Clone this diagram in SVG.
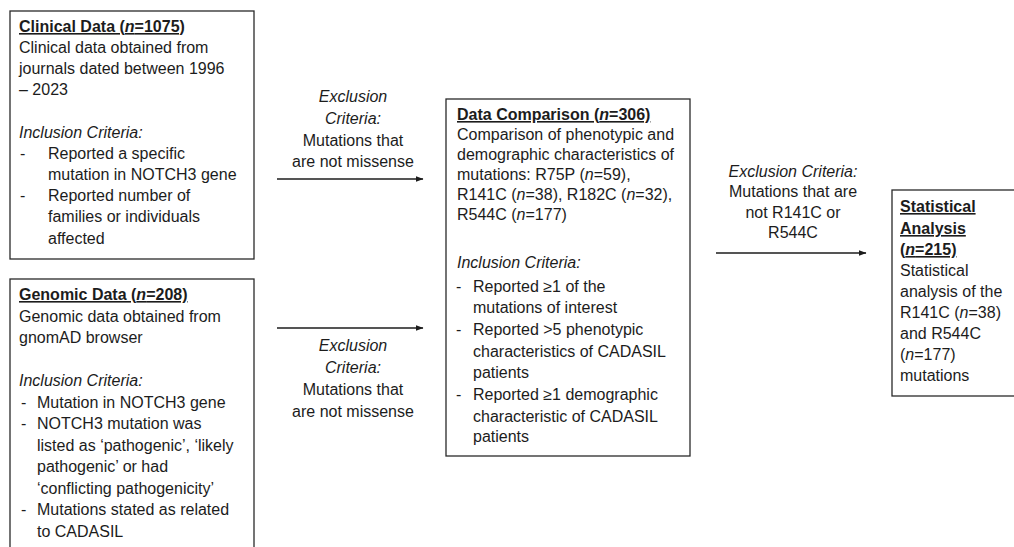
<svg xmlns="http://www.w3.org/2000/svg" width="1014" height="547" viewBox="0 0 1014 547">
<style>
text{font-family:"Liberation Sans",Arial,sans-serif;font-size:16px;fill:#1c1c1c}
.h{font-weight:bold;text-decoration:underline}
.i{font-style:italic}
.c{text-anchor:middle}
.box{fill:#fff;stroke:#2a2a2a;stroke-width:1.3}
.edge{stroke:#1c1c1c;stroke-width:1.3;fill:none;marker-end:url(#ah)}
</style>
<defs>
<marker id="ah" markerWidth="8" markerHeight="6" refX="7.5" refY="3" orient="auto" markerUnits="userSpaceOnUse">
<path d="M0,0 L8,3 L0,6 Z" fill="#1c1c1c"/>
</marker>
</defs>
<rect width="1014" height="547" fill="#fff"/>
<g id="clinical">
<rect class="box" x="10" y="11" width="244" height="248"/>
<text x="19" y="32"><tspan class="h">Clinical Data (<tspan class="i">n</tspan>=1075)</tspan></text>
<text x="19" y="53">Clinical data obtained from</text>
<text x="19" y="74">journals dated between 1996</text>
<text x="19" y="95">– 2023</text>
<text x="19" y="138" class="i">Inclusion Criteria:</text>
<text x="20" y="159">-</text><text x="48" y="159">Reported a specific</text>
<text x="48" y="180">mutation in NOTCH3 gene</text>
<text x="20" y="201">-</text><text x="48" y="201">Reported number of</text>
<text x="48" y="222">families or individuals</text>
<text x="48" y="244">affected</text>
</g>
<g id="genomic">
<rect class="box" x="10" y="279" width="244" height="280"/>
<text x="19" y="300"><tspan class="h">Genomic Data (<tspan class="i">n</tspan>=208)</tspan></text>
<text x="19" y="321.5">Genomic data obtained from</text>
<text x="19" y="343">gnomAD browser</text>
<text x="19" y="386" class="i">Inclusion Criteria:</text>
<text x="21" y="407.5">-</text><text x="37" y="407.5">Mutation in NOTCH3 gene</text>
<text x="21" y="429">-</text><text x="37" y="429">NOTCH3 mutation was</text>
<text x="37" y="450.5">listed as ‘pathogenic’, ‘likely</text>
<text x="37" y="472">pathogenic’ or had</text>
<text x="37" y="493.5">‘conflicting pathogenicity’</text>
<text x="21" y="515">-</text><text x="37" y="515">Mutations stated as related</text>
<text x="37" y="536.5">to CADASIL</text>
</g>
<g id="comparison">
<rect class="box" x="446" y="99" width="244" height="357"/>
<text x="457" y="120"><tspan class="h">Data Comparison (<tspan class="i">n</tspan>=306)</tspan></text>
<text x="457" y="140">Comparison of phenotypic and</text>
<text x="457" y="160">demographic characteristics of</text>
<text x="457" y="180">mutations: R75P (<tspan class="i">n</tspan>=59),</text>
<text x="457" y="200">R141C (<tspan class="i">n</tspan>=38), R182C (<tspan class="i">n</tspan>=32),</text>
<text x="457" y="220">R544C (<tspan class="i">n</tspan>=177)</text>
<text x="457" y="268" class="i">Inclusion Criteria:</text>
<text x="456" y="292">-</text><text x="473" y="292">Reported ≥1 of the</text>
<text x="473" y="313">mutations of interest</text>
<text x="456" y="335">-</text><text x="473" y="335">Reported &gt;5 phenotypic</text>
<text x="473" y="357">characteristics of CADASIL</text>
<text x="473" y="378">patients</text>
<text x="456" y="400">-</text><text x="473" y="400">Reported ≥1 demographic</text>
<text x="473" y="422">characteristic of CADASIL</text>
<text x="473" y="442">patients</text>
</g>
<g id="statistical">
<rect class="box" x="892" y="190" width="130" height="206"/>
<text x="900" y="212" class="h">Statistical</text>
<text x="900" y="234" class="h">Analysis</text>
<text x="900" y="255"><tspan class="h">(<tspan class="i">n</tspan>=215)</tspan></text>
<text x="900" y="276">Statistical</text>
<text x="900" y="297">analysis of the</text>
<text x="900" y="318">R141C (<tspan class="i">n</tspan>=38)</text>
<text x="900" y="339">and R544C</text>
<text x="900" y="360">(<tspan class="i">n</tspan>=177)</text>
<text x="900" y="381">mutations</text>
</g>
<g id="connectors">
<line class="edge" x1="277" y1="179" x2="423" y2="179"/>
<line class="edge" x1="277" y1="328" x2="423" y2="328"/>
<line class="edge" x1="716" y1="253" x2="866" y2="253"/>
</g>
<g id="labels">
<text x="353" y="102" class="c i">Exclusion</text>
<text x="353" y="124" class="c i">Criteria:</text>
<text x="353" y="146" class="c">Mutations that</text>
<text x="353" y="167" class="c">are not missense</text>
<text x="353" y="351" class="c i">Exclusion</text>
<text x="353" y="373" class="c i">Criteria:</text>
<text x="353" y="395" class="c">Mutations that</text>
<text x="353" y="417" class="c">are not missense</text>
<text x="793" y="177" class="c i">Exclusion Criteria:</text>
<text x="793" y="197" class="c">Mutations that are</text>
<text x="793" y="218" class="c">not R141C or</text>
<text x="793" y="238" class="c">R544C</text>
</g>
</svg>
